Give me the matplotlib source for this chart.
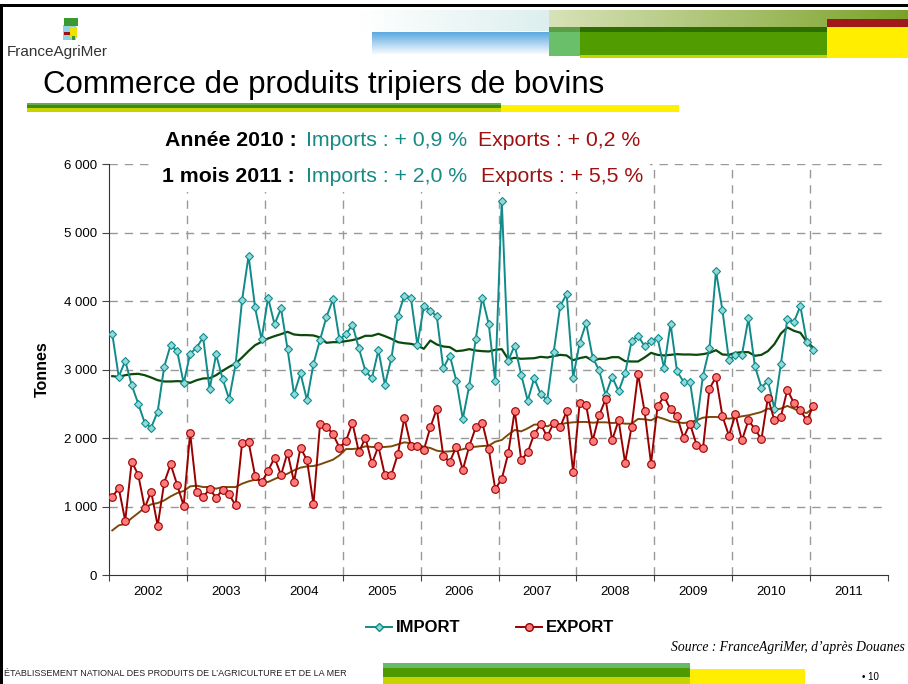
import numpy as np
import matplotlib
matplotlib.use("Agg")
import matplotlib.pyplot as plt
from matplotlib.patches import Rectangle
from matplotlib.lines import Line2D

plt.rcParams['font.family'] = ['Liberation Sans', 'DejaVu Sans']

# Data (monthly, Jan 2002 -> Jan 2011), tonnes
years = [2002, 2003, 2004, 2005, 2006, 2007, 2008, 2009, 2010, 2011]

import_vals = [
    3521, 2893, 3127, 2771, 2503, 2221, 2153, 2386, 3039, 3360, 3268, 2800,  # 2002
    3229, 3321, 3468, 2713, 3219, 2864, 2567, 3073, 4013, 4661, 3906, 3438,  # 2003
    4047, 3662, 3891, 3302, 2640, 2942, 2552, 3083, 3429, 3769, 4023, 3438,  # 2004
    3516, 3653, 3307, 2976, 2873, 3282, 2776, 3165, 3783, 4080, 4051, 3360,  # 2005
    3920, 3861, 3774, 3015, 3204, 2835, 2280, 2766, 3448, 4051, 3662, 2825,  # 2006
    5462, 3131, 3350, 2922, 2547, 2873, 2640, 2552, 3253, 3925, 4101, 2883,  # 2007
    3390, 3677, 3175, 2990, 2625, 2893, 2683, 2942, 3414, 3492, 3341, 3414,  # 2008
    3458, 3024, 3667, 2976, 2820, 2820, 2187, 2912, 3307, 4437, 3862, 3136,  # 2009
    3214, 3214, 3745, 3049, 2737, 2834, 2430, 3083, 3740, 3692, 3925, 3399,  # 2010
    3282,                                                                    # 2011
]

export_vals = [
    1138, 1270, 792, 1654, 1464, 982, 1216, 719, 1347, 1615, 1318, 1011,     # 2002
    2073, 1211, 1138, 1255, 1128, 1245, 1177, 1016, 1927, 1942, 1450, 1352,  # 2003
    1518, 1713, 1459, 1786, 1362, 1859, 1674, 1031, 2200, 2166, 2058, 1859,  # 2004
    1956, 2219, 1791, 2005, 1630, 1878, 1455, 1464, 1766, 2297, 1883, 1883,  # 2005
    1825, 2156, 2428, 1732, 1655, 1873, 1533, 1883, 2156, 2224, 1835, 1255,  # 2006
    1401, 1776, 2399, 1679, 1791, 2058, 2200, 2024, 2219, 2161, 2390, 1498,  # 2007
    2511, 2477, 1956, 2331, 2565, 1966, 2258, 1640, 2161, 2935, 2390, 1625,  # 2008
    2463, 2609, 2419, 2317, 2005, 2209, 1903, 1849, 2720, 2891, 2317, 2034,  # 2009
    2346, 1966, 2258, 2131, 1980, 2589, 2258, 2312, 2706, 2511, 2404, 2258,  # 2010
    2467,                                                                    # 2011
]

# 12-month moving averages as drawn on the chart
import_ma = [
    2903, 2893, 2917, 2932, 2937, 2917, 2883, 2844, 2825, 2825, 2830, 2825,
    2805, 2844, 2869, 2873, 2917, 2981, 3039, 3088, 3175, 3270, 3355, 3404,
    3453, 3487, 3516, 3550, 3511, 3502, 3502, 3497, 3468, 3390, 3399, 3399,
    3414, 3429, 3453, 3492, 3492, 3521, 3487, 3448, 3399, 3384, 3375, 3350,
    3302, 3423, 3365, 3336, 3326, 3268, 3277, 3297, 3277, 3268, 3263, 3287,
    3297, 3151, 3170, 3156, 3161, 3165, 3185, 3175, 3195, 3214, 3205, 3136,
    3166, 3185, 3127, 3156, 3156, 3180, 3180, 3122, 3117, 3117, 3175, 3243,
    3214, 3205, 3214, 3224, 3219, 3219, 3214, 3224, 3243, 3282, 3219, 3214,
    3243, 3253, 3253, 3200, 3214, 3268, 3370, 3526, 3614, 3565, 3536, 3404,
    3317,
]

export_ma = [
    651, 724, 748, 831, 904, 982, 1031, 1050, 1089, 1148, 1196, 1226,
    1294, 1304, 1284, 1284, 1260, 1284, 1284, 1284, 1333, 1367, 1391, 1377,
    1357, 1401, 1440, 1479, 1528, 1567, 1586, 1591, 1615, 1649, 1683, 1747,
    1839, 1839, 1849, 1878, 1869, 1869, 1869, 1878, 1907, 1937, 1922, 1903,
    1873, 1854, 1815, 1800, 1805, 1815, 1835, 1864, 1873, 1883, 1888, 1946,
    1971, 2049, 2117, 2097, 2141, 2195, 2200, 2170, 2209, 2200, 2219, 2229,
    2234, 2234, 2224, 2229, 2229, 2219, 2224, 2209, 2209, 2278, 2273, 2258,
    2307, 2278, 2243, 2229, 2219, 2229, 2258, 2297, 2307, 2307, 2297, 2282,
    2297, 2317, 2331, 2355, 2380, 2429, 2414, 2429, 2468, 2429, 2380, 2365,
    2443,
]

# colours
TEAL = '#118a8a'
TEAL_FACE = '#8fdada'
DKGREEN = '#0b4a0b'
RED = '#990000'
RED_FACE = '#ff7a7a'
BROWN = '#7a4a0a'

x = 2002 + (np.arange(len(import_vals)) + 0.5) / 12.0

W, H = 908, 684
fig = plt.figure(figsize=(W / 100, H / 100), dpi=100)

# main chart
ax = fig.add_axes([109 / W, 1 - 575 / H, (888 - 109) / W, (575 - 164) / H])
ax.plot(x, export_ma, color=BROWN, lw=1.4, zorder=3)
ax.plot(x, import_ma, color=DKGREEN, lw=1.6, zorder=3)
ax.plot(x, import_vals, color=TEAL, lw=1.4, marker='D', ms=4.5,
        mfc=TEAL_FACE, mec=TEAL, mew=0.8, zorder=4)
ax.plot(x, export_vals, color=RED, lw=1.4, marker='o', ms=5.5,
        mfc=RED_FACE, mec=RED, mew=0.8, zorder=4)

ax.set_xlim(2002, 2012)
ax.set_ylim(0, 6000)
ax.set_yticks(range(0, 6001, 1000))
ax.set_yticklabels(['0', '1 000', '2 000', '3 000', '4 000', '5 000', '6 000'], fontsize=9.5)
ax.set_xticks(range(2002, 2013))
ax.set_xticklabels([])
ax.set_xticks([yr + 0.5 for yr in years], minor=True)
ax.set_xticklabels([str(yr) for yr in years], minor=True, fontsize=9.5)
ax.tick_params(axis='x', which='minor', length=0, pad=8)
ax.tick_params(axis='x', which='major', length=4, color='#444444')
ax.tick_params(axis='y', length=5, color='#444444')
for s in ['top', 'right']:
    ax.spines[s].set_visible(False)
for s in ['left', 'bottom']:
    ax.spines[s].set_color('#333333')
for yv in range(1000, 6001, 1000):
    ax.axhline(yv, color='#999999', lw=1, ls=(0, (6, 5)), zorder=1)
for yr in range(2003, 2012):
    ax.axvline(yr, color='#999999', lw=1, ls=(0, (6, 5)), zorder=1)
ax.set_ylabel('Tonnes', fontsize=11.5, fontweight='bold', labelpad=10)

# decorations in pixel coordinates
deco = fig.add_axes([0, 0, 1, 1])
deco.patch.set_alpha(0)


def rect(x0, y0, x1, y1, color):
    deco.add_patch(Rectangle((x0, y0), x1 - x0, y1 - y0, color=color, lw=0))


def hgrad(x0, y0, x1, y1, c0, c1):
    c0 = np.array(matplotlib.colors.to_rgb(c0))
    c1 = np.array(matplotlib.colors.to_rgb(c1))
    t = np.linspace(0, 1, 200)[None, :, None]
    img = c0 + (c1 - c0) * t
    deco.imshow(img, extent=(x0, x1, y1, y0), aspect='auto', interpolation='bilinear')


def vgrad(x0, y0, x1, y1, c0, c1):
    c0 = np.array(matplotlib.colors.to_rgb(c0))
    c1 = np.array(matplotlib.colors.to_rgb(c1))
    t = np.linspace(0, 1, 100)[:, None, None]
    img = np.repeat(c0 + (c1 - c0) * t, 2, axis=1)
    deco.imshow(img, extent=(x0, x1, y1, y0), aspect='auto', interpolation='bilinear')


# header
hgrad(360, 10, 549, 31, '#ffffff', '#dcefee')
vgrad(372, 32, 549, 55, '#5aa8e0', '#ffffff')
hgrad(549, 10, 908, 27, '#d8e2b8', '#7aa228')
rect(827, 19, 908, 27, '#a01818')
rect(549, 27, 580, 32, '#5a9e46')
rect(549, 32, 580, 56, '#6abf6a')
rect(580, 27, 827, 32, '#2e6e00')
rect(580, 32, 827, 55, '#519c00')
rect(580, 55, 827, 58, '#c8d400')
rect(827, 27, 908, 58, '#ffee00')

# logo
rect(63, 25, 76, 40, '#8fd0ea')
rect(64, 18, 78, 26, '#3a9a30')
rect(70, 27, 77, 38, '#f2e000')
rect(64, 32, 70, 35, '#a01010')
rect(72, 36, 75, 40, '#3a9a30')
deco.text(7, 52, 'FranceAgriMer', fontsize=11, color='#333333', va='center')

# title and underline
deco.text(43, 85, 'Commerce de produits tripiers de bovins', fontsize=22.5, va='center')
rect(27, 103, 501, 105, '#62ae4e')
rect(27, 105, 501, 108, '#3f8c08')
rect(27, 108, 501, 112, '#c8d400')
rect(501, 105, 679, 112, '#fff000')

# headline figures (second line sits on a white box over the grid)
rect(155, 158, 650, 192, '#ffffff')
FS = 15.3
deco.text(165, 140, 'Année 2010 :', fontsize=FS, fontweight='bold', va='center')
deco.text(306, 140, 'Imports : + 0,9 %', fontsize=FS, color='#178a86', va='center')
deco.text(478, 140, 'Exports : + 0,2 %', fontsize=FS, color='#a01010', va='center')
deco.text(162, 177, '1 mois 2011 :', fontsize=FS, fontweight='bold', va='center')
deco.text(306, 177, 'Imports : + 2,0 %', fontsize=FS, color='#178a86', va='center')
deco.text(481, 177, 'Exports : + 5,5 %', fontsize=FS, color='#a01010', va='center')

# legend
deco.add_line(Line2D([366, 379, 392], [627, 627, 627], color=TEAL, lw=1.4, marker='D',
                     ms=4.5, mfc=TEAL_FACE, mec=TEAL, markevery=[1]))
deco.text(396, 627, 'IMPORT', fontsize=12, fontweight='bold', va='center')
deco.add_line(Line2D([516, 529, 542], [627, 627, 627], color=RED, lw=1.4, marker='o',
                     ms=5.5, mfc=RED_FACE, mec=RED, markevery=[1]))
deco.text(546, 627, 'EXPORT', fontsize=12, fontweight='bold', va='center')

deco.text(905, 648, 'Source : FranceAgriMer, d’après Douanes', fontsize=9.8,
          style='italic', family=['Liberation Serif', 'DejaVu Serif'],
          ha='right', va='center')

# footer
deco.text(4, 673, 'ÉTABLISSEMENT NATIONAL DES PRODUITS DE L’AGRICULTURE ET DE LA MER',
          fontsize=6.5, va='center', color='#222222')
rect(383, 663, 690, 668, '#66bb6a')
rect(383, 668, 690, 677, '#4e9a00')
rect(383, 677, 690, 684, '#c8d400')
rect(690, 669, 805, 684, '#ffee00')
deco.text(862, 677, '• 10', fontsize=7, va='center')

# frame
rect(0, 4, 908, 7, '#000000')
rect(0, 4, 3, 684, '#000000')

deco.set_xlim(0, W)
deco.set_ylim(H, 0)
deco.axis('off')

fig.savefig('out.png', dpi=100)
